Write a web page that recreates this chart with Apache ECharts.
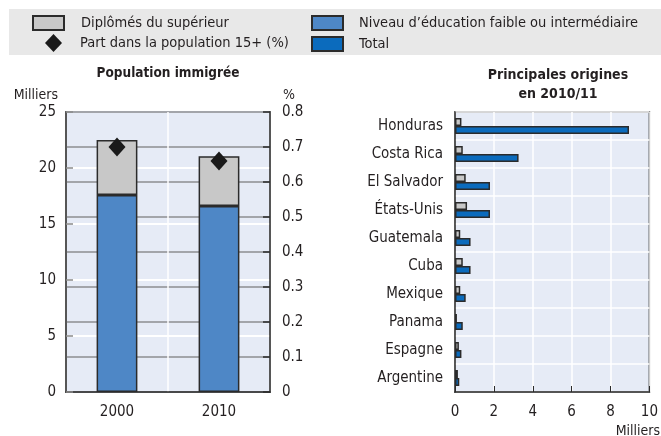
<!DOCTYPE html>
<html>
<head>
<meta charset="utf-8">
<script src="https://cdn.jsdelivr.net/npm/echarts@6/dist/echarts.min.js"></script>
<style>
  html, body { margin: 0; padding: 0; background: #fff; }
  #chart { width: 661px; height: 436px; }
</style>
</head>
<body>
<div id="chart"></div>
<script>
const years = ['2000', '2010']
const yearLow = [17.6, 16.6]
const yearHigh = [4.9, 4.45]
const yearShare = [0.70, 0.66]

const origins = ['Honduras', 'Costa Rica', 'El Salvador', 'États-Unis', 'Guatemala', 'Cuba', 'Mexique', 'Panama', 'Espagne', 'Argentine']
const originHigh = [0.33, 0.4, 0.55, 0.62, 0.27, 0.4, 0.27, 0.1, 0.2, 0.15]
const originTotal = [8.95, 3.27, 1.8, 1.8, 0.8, 0.8, 0.55, 0.4, 0.33, 0.22]

const font = "'DejaVu Sans Condensed', 'Liberation Sans', sans-serif"
const txt = '#231f20'
const grey = '#c8c8c8'
const blue = '#4e87c6'
const dark = '#0b6bbd'
const frame = '#2b2b2b'

const chartDom = document.querySelector('#chart')
const myChart = echarts.init(chartDom)

function legendItem (name, icon, left, top, w, h, pad) {
  return {
    left: left,
    top: top,
    padding: 0,
    itemWidth: w,
    itemHeight: h,
    selectedMode: false,
    data: [{ name: name, icon: icon }],
    textStyle: { fontFamily: font, fontSize: 14.5, color: txt, padding: [0, 0, 0, pad] }
  }
}

const option = {
  animation: false,
  textStyle: { fontFamily: font },
  graphic: [
    { type: 'rect', shape: { x: 9, y: 9, width: 652, height: 46 }, style: { fill: '#e8e8e8' }, z: -1 }
  ],
  title: [
    { text: 'Population immigrée', left: 168, top: 66, padding: 0, textAlign: 'center',
      textStyle: { fontFamily: font, fontSize: 13.5, fontWeight: 'bold', color: txt } },
    { text: 'Principales origines\nen 2010/11', left: 558, top: 66, padding: 0, textAlign: 'center',
      textStyle: { fontFamily: font, fontSize: 14, fontWeight: 'bold', color: txt, lineHeight: 19 } },
    { text: 'Milliers', right: 1, top: 424, padding: 0,
      textStyle: { fontFamily: font, fontSize: 14, fontWeight: 'normal', color: txt } }
  ],
  legend: [
    legendItem('Diplômés du supérieur', 'rect', 32, 15, 31, 14, 12),
    legendItem('Part dans la population 15+ (%)', 'diamond', 45, 34, 17, 18, 13),
    legendItem('Niveau d\u2019éducation faible ou intermédiaire', 'rect', 311, 15, 31, 14, 11),
    legendItem('Total', 'rect', 311, 36, 31, 14, 11)
  ],
  grid: [
    { left: 66, right: 391, top: 112, bottom: 44, show: true, backgroundColor: '#e6ebf6', borderColor: frame, borderWidth: 1.5 },
    { left: 455, right: 1, top: 112, bottom: 44, show: true, backgroundColor: '#e6ebf6', borderColor: frame, borderWidth: 1.5 }
  ],
  xAxis: [
    {
      type: 'category', gridIndex: 0, data: years,
      axisLine: { lineStyle: { color: frame, width: 1.5 } },
      axisTick: { inside: true, length: 7, lineStyle: { color: frame } },
      axisLabel: { fontSize: 15, color: txt, margin: 13 },
      splitLine: { show: true, lineStyle: { color: '#fff', width: 1.5 } }
    },
    {
      type: 'value', gridIndex: 1, min: 0, max: 10, interval: 2,
      axisLine: { show: true, lineStyle: { color: frame, width: 1.5 } },
      axisTick: { show: true, inside: true, length: 6, lineStyle: { color: frame } },
      axisLabel: { fontSize: 15, color: txt, margin: 13 },
      splitLine: { show: true, lineStyle: { color: '#fff', width: 1.5 } }
    }
  ],
  yAxis: [
    {
      type: 'value', gridIndex: 0, min: 0, max: 25, interval: 5,
      name: 'Milliers', nameGap: 10, nameTextStyle: { fontSize: 14, color: txt, align: 'right', padding: [0, 8, 0, 0] },
      axisLine: { show: true, lineStyle: { color: frame, width: 1.5 } },
      axisTick: { show: true, inside: true, length: 7, lineStyle: { color: '#8a8a8a', width: 1.5 } },
      axisLabel: { fontSize: 15, color: txt, margin: 10 },
      splitLine: { show: true, lineStyle: { color: '#fff', width: 2 } }
    },
    {
      type: 'value', gridIndex: 0, position: 'right', min: 0, max: 0.8, interval: 0.1,
      name: '%', nameGap: 10, nameTextStyle: { fontSize: 14, color: txt, align: 'left', padding: [0, 0, 0, 13] },
      axisLine: { show: true, lineStyle: { color: frame, width: 1.5 } },
      axisTick: { show: true, inside: true, length: 7, lineStyle: { color: frame, width: 1.5 } },
      axisLabel: { fontSize: 15, color: txt, margin: 12 },
      splitLine: { show: true, lineStyle: { color: '#a3a5aa', width: 2 } }
    },
    {
      type: 'category', gridIndex: 1, data: origins, inverse: true,
      axisLine: { lineStyle: { color: frame, width: 1.5 } },
      axisTick: { inside: true, length: 7, lineStyle: { color: '#8a8a8a', width: 1.5 } },
      axisLabel: { fontSize: 15, color: txt, margin: 12 },
      splitLine: { show: true, lineStyle: { color: '#fff', width: 1.5 } }
    }
  ],
  series: [
    {
      name: 'Niveau d\u2019éducation faible ou intermédiaire', type: 'bar', stack: 'pop',
      xAxisIndex: 0, yAxisIndex: 0, data: yearLow, barWidth: '40%',
      itemStyle: { color: blue, borderColor: frame, borderWidth: 1.5 }
    },
    {
      name: 'Diplômés du supérieur', type: 'bar', stack: 'pop',
      xAxisIndex: 0, yAxisIndex: 0, data: yearHigh, barWidth: '40%',
      itemStyle: { color: grey, borderColor: frame, borderWidth: 1.5 }
    },
    {
      name: 'Part dans la population 15+ (%)', type: 'scatter',
      xAxisIndex: 0, yAxisIndex: 1, data: yearShare,
      symbol: 'diamond', symbolSize: [17, 19],
      itemStyle: { color: '#1a1a1a', opacity: 1 }, z: 5
    },
    {
      name: 'Diplômés du supérieur', type: 'bar',
      xAxisIndex: 1, yAxisIndex: 2, data: originHigh, barWidth: 8, barGap: '0%',
      itemStyle: { color: grey, borderColor: frame, borderWidth: 1.5 }
    },
    {
      name: 'Total', type: 'bar',
      xAxisIndex: 1, yAxisIndex: 2, data: originTotal, barWidth: 8, barGap: '0%',
      itemStyle: { color: dark, borderColor: frame, borderWidth: 1.5 }
    }
  ]
}

option && myChart.setOption(option)
</script>
</body>
</html>
